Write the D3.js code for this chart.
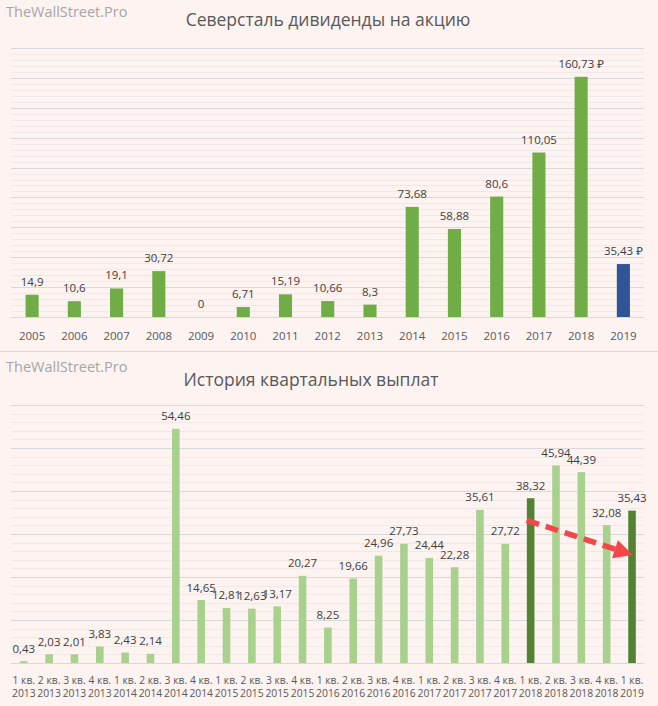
<!DOCTYPE html>
<html><head><meta charset="utf-8">
<script src="https://cdn.jsdelivr.net/npm/d3@7"></script>
<style>
html,body{margin:0;padding:0;background:#fdf3f1;}
svg{display:block;}
text{font-family:"Open Sans","Noto Sans",sans-serif;}
</style></head>
<body><svg id="c" width="658" height="706"></svg>
<script>
// ---------- data ----------
const years = ["2005","2006","2007","2008","2009","2010","2011","2012","2013","2014","2015","2016","2017","2018","2019"];
const annualDividends = [14.9,10.6,19.1,30.72,0,6.71,15.19,10.66,8.3,73.68,58.88,80.6,110.05,160.73,35.43];
const rubleYears = ["2018","2019"];
const highlightYears = ["2019"];
const annualTicks = [0,20,40,60,80,100,120,140,160,180];

const quarterNames = ["1 кв.","2 кв.","3 кв.","4 кв.","1 кв.","2 кв.","3 кв.","4 кв.","1 кв.","2 кв.","3 кв.","4 кв.","1 кв.","2 кв.","3 кв.","4 кв.","1 кв.","2 кв.","3 кв.","4 кв.","1 кв.","2 кв.","3 кв.","4 кв.","1 кв."];
const quarterYears = ["2013","2013","2013","2013","2014","2014","2014","2014","2015","2015","2015","2015","2016","2016","2016","2016","2017","2017","2017","2017","2018","2018","2018","2018","2019"];
const quarterlyDividends = [0.43,2.03,2.01,3.83,2.43,2.14,54.46,14.65,12.81,12.63,13.17,20.27,8.25,19.66,24.96,27.73,24.44,22.28,35.61,27.72,38.32,45.94,44.39,32.08,35.43];
const highlightQuarters = ["1 кв. 2018","1 кв. 2019"];
const quarterTicks = [0,10,20,30,40,50,60];
// trend arrow annotation: [quarter key, value]
const arrowFrom = ["1 кв. 2018", 33.2];
const arrowTo = ["1 кв. 2019", 25.1];

const titleTop = "Северсталь дивиденды на акцию";
const titleBottom = "История квартальных выплат";
const watermark = "TheWallStreet.Pro";

// ---------- drawing ----------
const svg = d3.select("#c");
const fmt = v => String(v).replace(".", ",");
const C = {green:"#70ad47", blue:"#2f5597", light:"#a9d18e", dark:"#548235",
  major:"#d9d9d9", minor:"#f1e9e8", label:"#404040", axis:"#595959", title:"#595959", wm:"#a6a6a6"};

function grid(g, y, ticks, x0, x1) {
  const step = (ticks[1]-ticks[0]) / 5;
  const minor = d3.range(ticks[0], ticks[ticks.length-1], step).filter(v => !ticks.some(t => Math.abs(t-v) < 1e-9));
  g.selectAll(".mn").data(minor).join("line")
    .attr("x1", x0).attr("x2", x1).attr("y1", d => Math.round(y(d))+0.5).attr("y2", d => Math.round(y(d))+0.5)
    .attr("stroke", C.minor).attr("stroke-width", 1);
  g.selectAll(".mj").data(ticks).join("line")
    .attr("x1", x0).attr("x2", x1).attr("y1", d => Math.round(y(d))+0.5).attr("y2", d => Math.round(y(d))+0.5)
    .attr("stroke", C.major).attr("stroke-width", 1);
}

// watermark + titles
svg.append("text").attr("x", 6).attr("y", 17).attr("font-size", 14.5).attr("fill", C.wm).text(watermark);
svg.append("text").attr("x", 328).attr("y", 26).attr("text-anchor", "middle").attr("font-size", 17.5).attr("fill", C.title).text(titleTop);
svg.append("line").attr("x1", 0).attr("x2", 658).attr("y1", 351.5).attr("y2", 351.5).attr("stroke", C.major);
svg.append("text").attr("x", 6).attr("y", 372).attr("font-size", 14.5).attr("fill", C.wm).text(watermark);
svg.append("text").attr("x", 311).attr("y", 386).attr("text-anchor", "middle").attr("font-size", 17.5).attr("fill", C.title).text(titleBottom);

// ----- top chart -----
const xA = d3.scaleBand().domain(years).range([11, 644.5]).paddingInner(0.69).paddingOuter(0.345);
const yA = d3.scaleLinear().domain([0, 180]).range([317, 48]);
const gA = svg.append("g");
grid(gA, yA, annualTicks, 11, 644);
gA.selectAll("rect").data(years).join("rect")
  .attr("x", d => xA(d)).attr("width", xA.bandwidth())
  .attr("y", (d,i) => yA(annualDividends[i])).attr("height", (d,i) => yA(0) - yA(annualDividends[i]))
  .attr("fill", d => highlightYears.includes(d) ? C.blue : C.green);
gA.selectAll("text.v").data(years).join("text").attr("class","v")
  .attr("x", d => xA(d) + xA.bandwidth()/2).attr("y", (d,i) => yA(annualDividends[i]) - 9)
  .attr("text-anchor", "middle").attr("font-size", 11.5).attr("fill", C.label)
  .text((d,i) => fmt(annualDividends[i]) + (rubleYears.includes(d) ? " ₽" : ""));
const axA = d3.axisBottom(xA).tickSize(0).tickPadding(0);
const gAx = svg.append("g").attr("transform", "translate(0,340)").call(axA);
gAx.select(".domain").remove();
gAx.selectAll("text").attr("font-size", 11.5).attr("fill", C.axis).attr("dy", 0).attr("y", 0)
  .style("font-family", '"Open Sans","Noto Sans",sans-serif');

// ----- bottom chart -----
const qKeys = quarterNames.map((q,i) => q + " " + quarterYears[i]);
const xQ = d3.scaleBand().domain(qKeys).range([11.1, 644.7]).paddingInner(0.7).paddingOuter(0.35);
const yQ = d3.scaleLinear().domain([0, 60]).range([663, 405]);
const gQ = svg.append("g");
grid(gQ, yQ, quarterTicks, 11, 644);
gQ.selectAll("rect").data(qKeys).join("rect")
  .attr("x", d => xQ(d)).attr("width", xQ.bandwidth())
  .attr("y", (d,i) => yQ(quarterlyDividends[i])).attr("height", (d,i) => yQ(0) - yQ(quarterlyDividends[i]))
  .attr("fill", d => highlightQuarters.includes(d) ? C.dark : C.light);
gQ.selectAll("text.v").data(qKeys).join("text").attr("class","v")
  .attr("x", d => xQ(d) + xQ.bandwidth()/2).attr("y", (d,i) => yQ(quarterlyDividends[i]) - 8.5)
  .attr("text-anchor", "middle").attr("font-size", 11.5).attr("fill", C.label)
  .text((d,i) => fmt(quarterlyDividends[i]));
const axQ = d3.axisBottom(xQ).tickSize(0).tickPadding(0).tickFormat(() => "");
const gQx = svg.append("g").attr("transform", "translate(0,0)").call(axQ);
gQx.select(".domain").remove();
gQx.selectAll(".tick").each(function(d, i) {
  const t = d3.select(this).select("text").attr("y", 0).attr("dy", 0).text(null)
    .attr("font-size", 10.3).attr("fill", C.axis).style("font-family", '"Open Sans","Noto Sans",sans-serif');
  t.append("tspan").attr("x", 0).attr("y", 683.5).text(quarterNames[i]);
  t.append("tspan").attr("x", 0).attr("y", 697).text(quarterYears[i]);
});

// trend arrow
const ax0 = xQ(arrowFrom[0]) + xQ.bandwidth()/2 - 4, ay0 = yQ(arrowFrom[1]);
const ax1 = xQ(arrowTo[0]) + xQ.bandwidth()/2 + 1, ay1 = yQ(arrowTo[1]);
const len = Math.hypot(ax1-ax0, ay1-ay0), ux = (ax1-ax0)/len, uy = (ay1-ay0)/len;
const headL = 19, headW = 9.5;
const bx = ax1 - ux*headL, by = ay1 - uy*headL;
svg.append("line").attr("x1", ax0).attr("y1", ay0).attr("x2", bx + ux*2).attr("y2", by + uy*2)
  .attr("stroke", "#f4474a").attr("stroke-width", 5.5).attr("stroke-dasharray", "13,7");
svg.append("path")
  .attr("d", `M${ax1},${ay1}L${bx - uy*headW},${by + ux*headW}L${bx + uy*headW},${by - ux*headW}Z`)
  .attr("fill", "#f4474a");
</script></body></html>
